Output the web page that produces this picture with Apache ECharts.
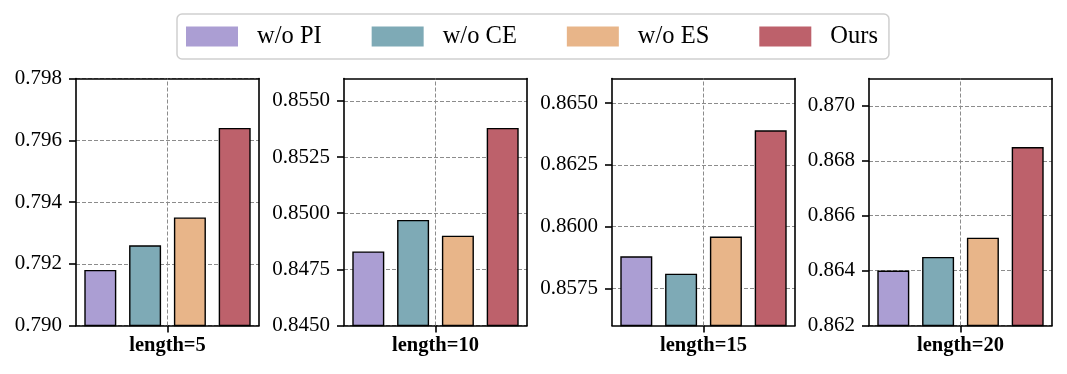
<!DOCTYPE html>
<html><head><meta charset="utf-8">
<script src="https://cdn.jsdelivr.net/npm/echarts@6/dist/echarts.min.js"></script>
<style>html,body{margin:0;padding:0;background:#fff}#c{width:1067px;height:374px}</style>
</head><body><div id="c"></div>
<script>
// ---- data ----
const categories = ['length=5', 'length=10', 'length=15', 'length=20'];
const methods = ['w/o PI', 'w/o CE', 'w/o ES', 'Ours'];
const woPI = [0.7918, 0.8483, 0.8588, 0.8640];
const woCE = [0.7926, 0.8497, 0.8581, 0.8645];
const woES = [0.7935, 0.8490, 0.8596, 0.8652];
const ours = [0.7964, 0.8538, 0.8639, 0.8685];
const yMin = [0.790, 0.845, 0.856, 0.862];
const yMax = [0.798, 0.856, 0.866, 0.871];
const yTicks1 = [0.790, 0.792, 0.794, 0.796, 0.798];
const yTicks2 = [0.8450, 0.8475, 0.8500, 0.8525, 0.8550];
const yTicks3 = [0.8575, 0.8600, 0.8625, 0.8650];
const yTicks4 = [0.862, 0.864, 0.866, 0.868, 0.870];
const tickDecimals = [3, 4, 4, 3];

// ---- styles ----
const seriesValues = [woPI, woCE, woES, ours];
const yTicks = [yTicks1, yTicks2, yTicks3, yTicks4];
const colors = ['#ab9ed3', '#7eaab6', '#e8b589', '#bd616b'];
const FONT = "'Liberation Serif', 'Times New Roman', serif";
const gridLefts = [76, 344, 612, 869];
const gridLine = { color: '#8c8c8c', type: [4, 2], width: 1 };
const blackLine = { color: '#000', width: 1.6 };

const grids = [], xAxes = [], yAxes = [], series = [];
categories.forEach((cat, i) => {
  grids.push({ left: gridLefts[i], top: 78.5, width: 183, height: 247 });
  xAxes.push({
    gridIndex: i, type: 'category', data: [cat], position: 'bottom',
    axisLine: { show: true, lineStyle: blackLine },
    axisTick: { show: true, alignWithLabel: true, length: 7, lineStyle: blackLine },
    axisLabel: { fontFamily: FONT, fontWeight: 'bold', fontSize: 20.5, color: '#000', margin: 10 },
    splitLine: { show: false }
  });
  xAxes.push({
    gridIndex: i, type: 'category', data: [cat], position: 'top',
    axisLine: { show: true, lineStyle: blackLine },
    axisTick: { show: false }, axisLabel: { show: false }, splitLine: { show: false }
  });
  yAxes.push({
    gridIndex: i, type: 'value', position: 'left', min: yMin[i], max: yMax[i],
    axisLine: { show: true, lineStyle: blackLine },
    axisTick: { show: true, length: 7, lineStyle: blackLine, customValues: yTicks[i] },
    axisLabel: {
      show: true, customValues: yTicks[i], fontFamily: FONT, fontSize: 21, color: '#000', margin: 14,
      formatter: (v) => Number(v).toFixed(tickDecimals[i])
    },
    splitLine: { show: true, lineStyle: gridLine }
  });
  yAxes.push({
    gridIndex: i, type: 'value', position: 'right', min: yMin[i], max: yMax[i],
    axisLine: { show: true, lineStyle: blackLine },
    axisTick: { show: false }, axisLabel: { show: false }, splitLine: { show: false }
  });
  // vertical grid line at the category centre
  series.push({
    type: 'line', name: '_grid' + i, xAxisIndex: 2 * i, yAxisIndex: 2 * i,
    data: [], silent: true, z: 1,
    markLine: {
      silent: true, symbol: ['none', 'none'], label: { show: false },
      lineStyle: gridLine, data: [{ xAxis: cat }], animation: false
    }
  });
  methods.forEach((m, k) => {
    series.push({
      type: 'bar', name: m, xAxisIndex: 2 * i, yAxisIndex: 2 * i,
      data: [seriesValues[k][i]], barWidth: 32, barGap: '40%', z: 3,
      itemStyle: { color: colors[k], borderColor: '#000', borderWidth: 1.4 }
    });
  });
});

const chart = echarts.init(document.getElementById('c'), null, { renderer: 'canvas' });
chart.setOption({
  animation: false,
  backgroundColor: '#fff',
  color: colors,
  legend: {
    data: methods,
    left: 177, top: 14,
    padding: [10, 11, 10, 9],
    itemGap: 50, itemWidth: 52, itemHeight: 20,
    icon: 'rect',
    itemStyle: { borderWidth: 0 },
    borderColor: '#cfcfcf', borderWidth: 1.5, borderRadius: 5,
    textStyle: { fontFamily: FONT, fontSize: 24.5, color: '#000', lineHeight: 24, padding: [0, 0, 0, 14] }
  },
  grid: grids,
  xAxis: xAxes,
  yAxis: yAxes,
  series: series
});
</script>
</body></html>
